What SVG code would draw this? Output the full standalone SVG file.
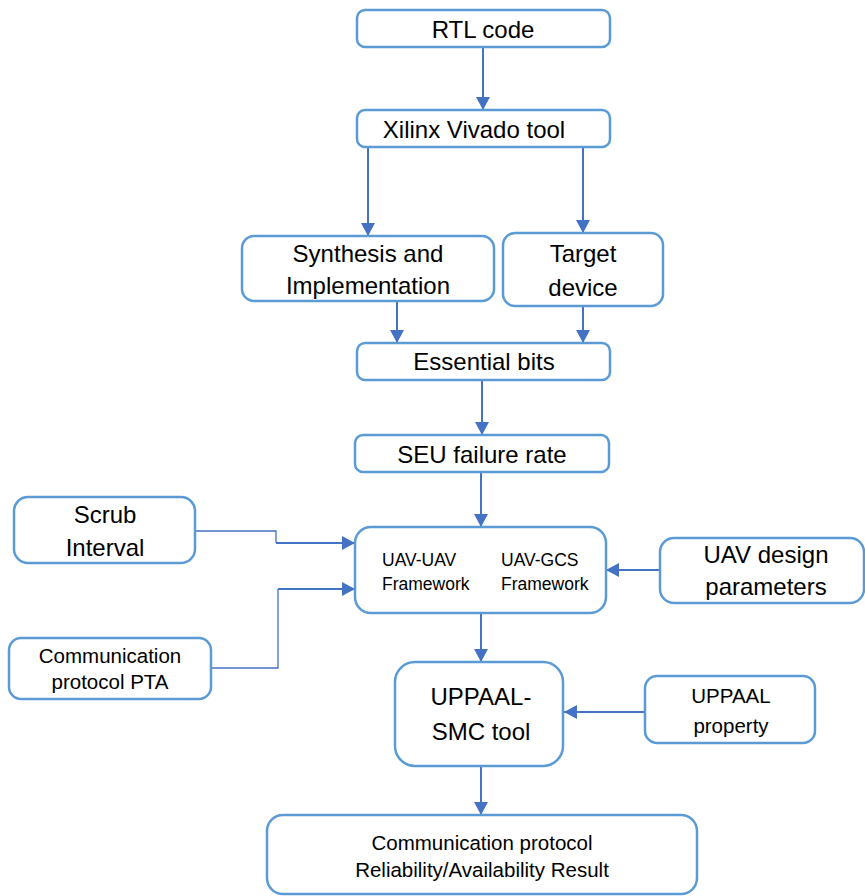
<svg xmlns="http://www.w3.org/2000/svg" width="865" height="896" viewBox="0 0 865 896">
<defs>
<marker id="ah" markerUnits="userSpaceOnUse" markerWidth="14" markerHeight="14" refX="13" refY="7" orient="auto">
<path d="M0,0 L13,7 L0,14 Z" fill="#4472C4"/>
</marker>
<style>
.box{fill:#fff;stroke:#5B9BD5;stroke-width:2.5}
.c{fill:none;stroke:#4472C4;stroke-width:2}
.thin{fill:none;stroke:#4472C4;stroke-width:1.3}
text{font-family:"Liberation Sans",Arial,sans-serif;fill:#000;text-anchor:middle}
.L{font-size:24px}
.M{font-size:20.5px}
.S{font-size:17.5px;text-anchor:start}
</style>
</defs>
<rect width="865" height="896" fill="#fff"/>
<g id="connectors">
<line class="c" x1="483" y1="47" x2="483" y2="110" marker-end="url(#ah)"/>
<line class="c" x1="368" y1="147" x2="368" y2="236" marker-end="url(#ah)"/>
<line class="c" x1="583" y1="147" x2="583" y2="233" marker-end="url(#ah)"/>
<line class="c" x1="397" y1="301" x2="397" y2="343" marker-end="url(#ah)"/>
<line class="c" x1="583" y1="306" x2="583" y2="343" marker-end="url(#ah)"/>
<line class="c" x1="482" y1="380" x2="482" y2="435" marker-end="url(#ah)"/>
<line class="c" x1="481" y1="472" x2="481" y2="527" marker-end="url(#ah)"/>
<line class="thin" x1="481" y1="527" x2="481" y2="613"/>
<line class="c" x1="481" y1="613" x2="481" y2="662" marker-end="url(#ah)"/>
<polyline class="thin" points="195,531 276,531 276,543"/>
<line class="c" x1="276" y1="543" x2="355" y2="543" marker-end="url(#ah)"/>
<polyline class="thin" points="211,668 278,668 278,589"/>
<line class="c" x1="278" y1="589" x2="355" y2="589" marker-end="url(#ah)"/>
<line class="c" x1="660" y1="570" x2="606" y2="570" marker-end="url(#ah)"/>
<line class="c" x1="645" y1="712" x2="564" y2="712" marker-end="url(#ah)"/>
<line class="c" x1="481" y1="766" x2="481" y2="815" marker-end="url(#ah)"/>
</g>
<g id="rtl">
<rect class="box" x="357" y="10" width="253" height="37" rx="8"/>
<text class="L" x="483" y="38">RTL code</text>
</g>
<g id="xilinx">
<rect class="box" x="357" y="110" width="253" height="37" rx="8"/>
<text class="L" x="474" y="138">Xilinx Vivado tool</text>
</g>
<g id="synthesis">
<rect class="box" x="242" y="236" width="252" height="65" rx="12"/>
<text class="L" x="368" y="262">Synthesis and</text>
<text class="L" x="368" y="294">Implementation</text>
</g>
<g id="target">
<rect class="box" x="503" y="233" width="160" height="73" rx="12"/>
<text class="L" x="583" y="262">Target</text>
<text class="L" x="583" y="296">device</text>
</g>
<g id="essential">
<rect class="box" x="357" y="343" width="253" height="37" rx="8"/>
<text class="L" x="484" y="370">Essential bits</text>
</g>
<g id="seu">
<rect class="box" x="355" y="435" width="254" height="37" rx="8"/>
<text class="L" x="482" y="463">SEU failure rate</text>
</g>
<g id="scrub">
<rect class="box" x="14" y="497" width="181" height="66" rx="14"/>
<text class="L" x="105" y="523">Scrub</text>
<text class="L" x="105" y="556">Interval</text>
</g>
<g id="framework">
<rect class="box" x="355" y="527" width="251" height="86" rx="16"/>
<text class="S" x="382" y="566">UAV-UAV</text>
<text class="S" x="382" y="590">Framework</text>
<text class="S" x="501" y="566">UAV-GCS</text>
<text class="S" x="501" y="590">Framework</text>
</g>
<g id="uav-design">
<rect class="box" x="660" y="538" width="204" height="65" rx="14"/>
<text class="L" x="766" y="563">UAV design</text>
<text class="L" x="766" y="595">parameters</text>
</g>
<g id="pta">
<rect class="box" x="9" y="638" width="202" height="61" rx="12"/>
<text class="M" x="110" y="663">Communication</text>
<text class="M" x="110" y="689">protocol PTA</text>
</g>
<g id="uppaal-smc">
<rect class="box" x="395" y="662" width="168" height="104" rx="20"/>
<text class="L" x="481" y="705">UPPAAL-</text>
<text class="L" x="481" y="740">SMC tool</text>
</g>
<g id="uppaal-property">
<rect class="box" x="645" y="676" width="170" height="67" rx="12"/>
<text class="M" x="731" y="703">UPPAAL</text>
<text class="M" x="731" y="733">property</text>
</g>
<g id="result">
<rect class="box" x="267" y="815" width="430" height="79" rx="16"/>
<text class="M" x="482" y="850">Communication protocol</text>
<text class="M" x="482" y="877">Reliability/Availability Result</text>
</g>
</svg>
